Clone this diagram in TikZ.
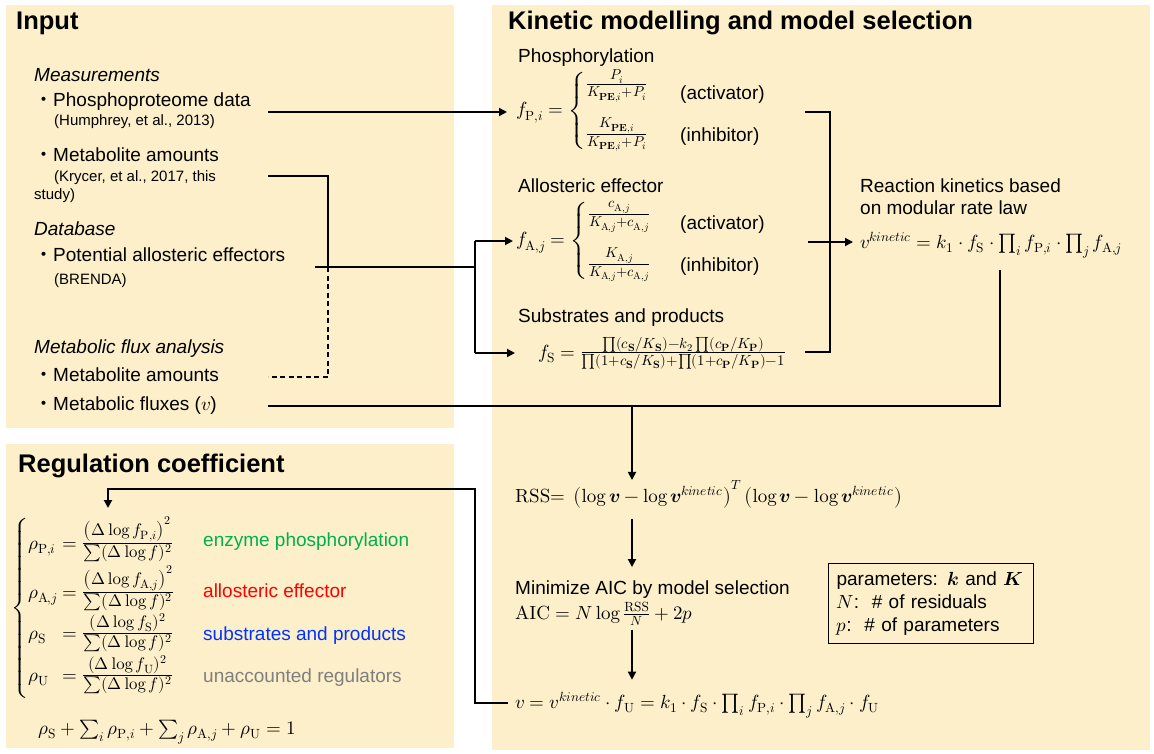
\documentclass[tikz,border=0pt]{standalone}
\usepackage{amsmath}
\usepackage{fontspec}
\usepackage{unicode-math}
\setmainfont{Liberation Sans}
\setmathrm{lmroman10-regular.otf}[BoldFont=lmroman10-bold.otf, ItalicFont=lmroman10-italic.otf]
\newfontfamily\cjk{Noto Sans CJK JP}
\usetikzlibrary{arrows.meta}

\definecolor{panelfill}{RGB}{252,239,201}
\definecolor{labP}{RGB}{0,176,80}
\definecolor{labA}{RGB}{255,0,0}
\definecolor{labS}{RGB}{0,51,255}
\definecolor{labU}{RGB}{127,127,127}

% bullet used in the data lists
\newcommand{\bul}{{\cjk ・}}
% fraction whose numerator and denominator are set at a chosen size
\newcommand{\szfrac}[3]{\mbox{\fontsize{#1}{#1}\selectfont$\frac{#2}{#3}$}}
\newcommand{\rP}{\symup{P}}
\newcommand{\rA}{\symup{A}}
\newcommand{\rS}{\symup{S}}
\newcommand{\rU}{\symup{U}}

\tikzset{
  every node/.style={inner sep=0pt},
  panel/.style={fill=panelfill, draw=none},
  title/.style={anchor=west, font=\fontsize{25.5}{30}\selectfont\bfseries},
  txt/.style={anchor=west, font=\fontsize{19}{23}\selectfont, text height=13.5pt, text depth=4pt},
  itx/.style={txt, font=\fontsize{19}{23}\selectfont\itshape},
  small/.style={anchor=west, font=\fontsize{15}{18}\selectfont, text height=10.7pt, text depth=3.2pt},
  mth/.style={anchor=west, font=\fontsize{19}{23}\selectfont},
  mthb/.style={anchor=base west, font=\fontsize{19}{23}\selectfont},
  link/.style={line width=1.8pt},
  arr/.style={link, -{Triangle[length=8pt,width=8pt]}},
  pbox/.style={draw, line width=1.2pt, anchor=north west, minimum width=205pt,
    minimum height=80pt, align=left, text width=189pt, inner xsep=8pt,
    font=\fontsize{19}{23}\selectfont},
}

\begin{document}
\begin{tikzpicture}[x=1pt,y=-1pt]
\useasboundingbox (0,0) rectangle (1154,754);
\fill[white] (0,0) rectangle (1154,754);

% panels
\fill[panel] (6,5) rectangle (454,428);
\fill[panel] (6,444) rectangle (454,748);
\fill[panel] (492,5) rectangle (1150,750);

% titles
\node[title] (tIn)  at (16,23)  {Input};
\node[title] (tKin) at (508,23) {Kinetic modelling and model selection};
\node[title] (tReg) at (18,466) {Regulation coefficient};

% input data
\node[itx]   (hMeas) at (34,77)  {Measurements};
\node[txt]   (phos)  at (34,102) {\bul Phosphoproteome data};
\node[small] (refH)  at (54,122) {(Humphrey, et al., 2013)};
\node[txt]   (metA)  at (34,157) {\bul Metabolite amounts};
\node[small] (refK)  at (54,178) {(Krycer, et al., 2017, this};
\node[small] (refK2) at (34,196) {study)};
\node[itx]   (hDb)   at (34,231) {Database};
\node[txt]   (pae)   at (34,257) {\bul Potential allosteric effectors};
\node[small] (refB)  at (54,281) {(BRENDA)};
\node[itx]   (hMfa)  at (34,349) {Metabolic flux analysis};
\node[txt]   (metB)  at (34,377) {\bul Metabolite amounts};
\node[txt]   (flux)  at (34,406) {\bul Metabolic fluxes ($v$)};

% rate-law modules
\node[txt] (hPh) at (518,58) {Phosphorylation};
\node[mth] (fP) at (516,111) {$f_{\rP,i}=\begin{cases}
  \szfrac{20.5}{P_i}{K_{\symbf{PE},i}+P_i}\\[20pt]
  \szfrac{20.5}{K_{\symbf{PE},i}}{K_{\symbf{PE},i}+P_i}\end{cases}$};
\node[txt] (actP) at (680,95)  {(activator)};
\node[txt] (inhP) at (680,137) {(inhibitor)};

\node[txt] (hAl) at (518,188) {Allosteric effector};
\node[mth] (fA) at (516,241) {$f_{\rA,j}=\begin{cases}
  \szfrac{20.5}{c_{\rA,j}}{K_{\rA,j}+c_{\rA,j}}\\[20pt]
  \szfrac{20.5}{K_{\rA,j}}{K_{\rA,j}+c_{\rA,j}}\end{cases}$};
\node[txt] (actA) at (680,225) {(activator)};
\node[txt] (inhA) at (680,267) {(inhibitor)};

\node[txt] (hSu) at (518,318) {Substrates and products};
\node[mth] (fS) at (538,353) {$f_{\rS}=\szfrac{21}{\prod(c_{\symbf{S}}/K_{\symbf{S}})-k_2\prod(c_{\symbf{P}}/K_{\symbf{P}})}{\prod(1+c_{\symbf{S}}/K_{\symbf{S}})+\prod(1+c_{\symbf{P}}/K_{\symbf{P}})-1}$};

\node[txt] (hRe1) at (860,188) {Reaction kinetics based};
\node[txt] (hRe2) at (860,210) {on modular rate law};
\node[mthb] (vk) at (860,248) {$v^{kinetic}=k_1\cdot f_{\rS}\cdot\prod_i f_{\rP,i}\cdot\prod_j f_{\rA,j}$};

% fitting
\node[mthb] (rss) at (515,502) {$\mathrm{RSS}{=}\;\left(\log\symbfit{v}-\log\symbfit{v}^{kinetic}\right)^{T}\left(\log\symbfit{v}-\log\symbfit{v}^{kinetic}\right)$};
\node[txt] (hMin) at (515,590) {Minimize AIC by model selection};
\node[mthb] (aic) at (515,619) {$\mathrm{AIC}=N\log\frac{\mathrm{RSS}}{N}+2p$};
\node[mthb] (vfin) at (515,708) {$v=v^{kinetic}\cdot f_{\rU}=k_1\cdot f_{\rS}\cdot\prod_i f_{\rP,i}\cdot\prod_j f_{\rA,j}\cdot f_{\rU}$};

\node[pbox] (par) at (828,563) {parameters: $\symbfit{k}$ and $\symbfit{K}$\\
  $N$:~~\# of residuals\\
  $p$:~~\# of parameters};

% regulation coefficients
\node[mthb] (brc) at (11,613) {$\left\{\vrule height 88pt depth 88pt width 0pt\right.$};
\node[mthb] (rhoP) at (28,549) {$\rho_{\rP,i}$};
\node[mthb] (eqP)  at (62,549) {$=\szfrac{24}{\left(\Delta\log f_{\rP,i}\right)^2}{\sum(\Delta\log f)^2}$};
\node[mthb] (rhoA) at (28,598) {$\rho_{\rA,j}$};
\node[mthb] (eqA)  at (62,598) {$=\szfrac{24}{\left(\Delta\log f_{\rA,j}\right)^2}{\sum(\Delta\log f)^2}$};
\node[mthb] (rhoS) at (28,639) {$\rho_{\rS}$};
\node[mthb] (eqS)  at (62,639) {$=\szfrac{24}{(\Delta\log f_{\rS})^2}{\sum(\Delta\log f)^2}$};
\node[mthb] (rhoU) at (28,681) {$\rho_{\rU}$};
\node[mthb] (eqU)  at (62,681) {$=\szfrac{24}{(\Delta\log f_{\rU})^2}{\sum(\Delta\log f)^2}$};
\node[txt, text=labP] (lP) at (203,542) {enzyme phosphorylation};
\node[txt, text=labA] (lA) at (203,593) {allosteric effector};
\node[txt, text=labS] (lS) at (203,636) {substrates and products};
\node[txt, text=labU] (lU) at (203,678) {unaccounted regulators};
\node[mthb] (sumr) at (38,734) {$\rho_{\rS}+\sum_i\rho_{\rP,i}+\sum_j\rho_{\rA,j}+\rho_{\rU}=1$};

% connector points
\coordinate (ppOut) at (268,112);
\coordinate (maOut) at (268,176);
\coordinate (maTurn) at (328,176);
\coordinate (mJoin) at (328,267);
\coordinate (paeOut) at (315,267);
\coordinate (busMid) at (475,267);
\coordinate (busA) at (475,241);
\coordinate (busS) at (475,353);
\coordinate (mbOut) at (268,377);
\coordinate (fxOut) at (268,406);
\coordinate (fxCorner) at (1000,406);
\coordinate (vkDown) at (1000,270);
\coordinate (rssIn) at (632,406);
\coordinate (pR) at (805,112);
\coordinate (jTop) at (830,112);
\coordinate (jBot) at (830,352);
\coordinate (sR) at (805,352);
\coordinate (aR) at (808,242);
\coordinate (finL) at (508,703);
\coordinate (rg1) at (475,703);
\coordinate (rg2) at (475,489);
\coordinate (rg3) at (108,489);
\coordinate (rgTip) at (108,508);

% data into the rate-law modules
\draw[arr, shorten >=9pt] (ppOut) -- (ppOut -| fP.west);
\draw[link] (maOut) -- (maTurn) -- (mJoin);
\draw[link] (paeOut) -- (busMid);
\draw[link] (busA) -- (busS);
\draw[arr, shorten >=3pt] (busA) -- (busA -| fA.west);
\draw[arr, shorten >=23pt] (busS) -- (busS -| fS.west);
\draw[link, dash pattern=on 5pt off 3.5pt] (mJoin) -- (mJoin |- mbOut) -- (mbOut);

% modules into the rate law
\draw[link] (pR) -- (jTop) -- (jBot) -- (sR);
\draw[arr, shorten >=7pt] (aR) -- (aR -| vk.west);

% fluxes and kinetic rate into the fit
\draw[link] (fxOut) -- (fxCorner) -- (vkDown);
\draw[arr] (rssIn) -- (rssIn |- rss.north);
\draw[arr, shorten <=11pt, shorten >=14pt] (rss.south -| rssIn) -- (hMin.north -| rssIn);
\draw[arr, shorten <=4pt, shorten >=12pt] (aic.south -| rssIn) -- (vfin.north -| rssIn);

% fitted model back to the coefficients
\draw[arr] (finL) -- (rg1) -- (rg2) -- (rg3) -- (rgTip);
\end{tikzpicture}
\end{document}
